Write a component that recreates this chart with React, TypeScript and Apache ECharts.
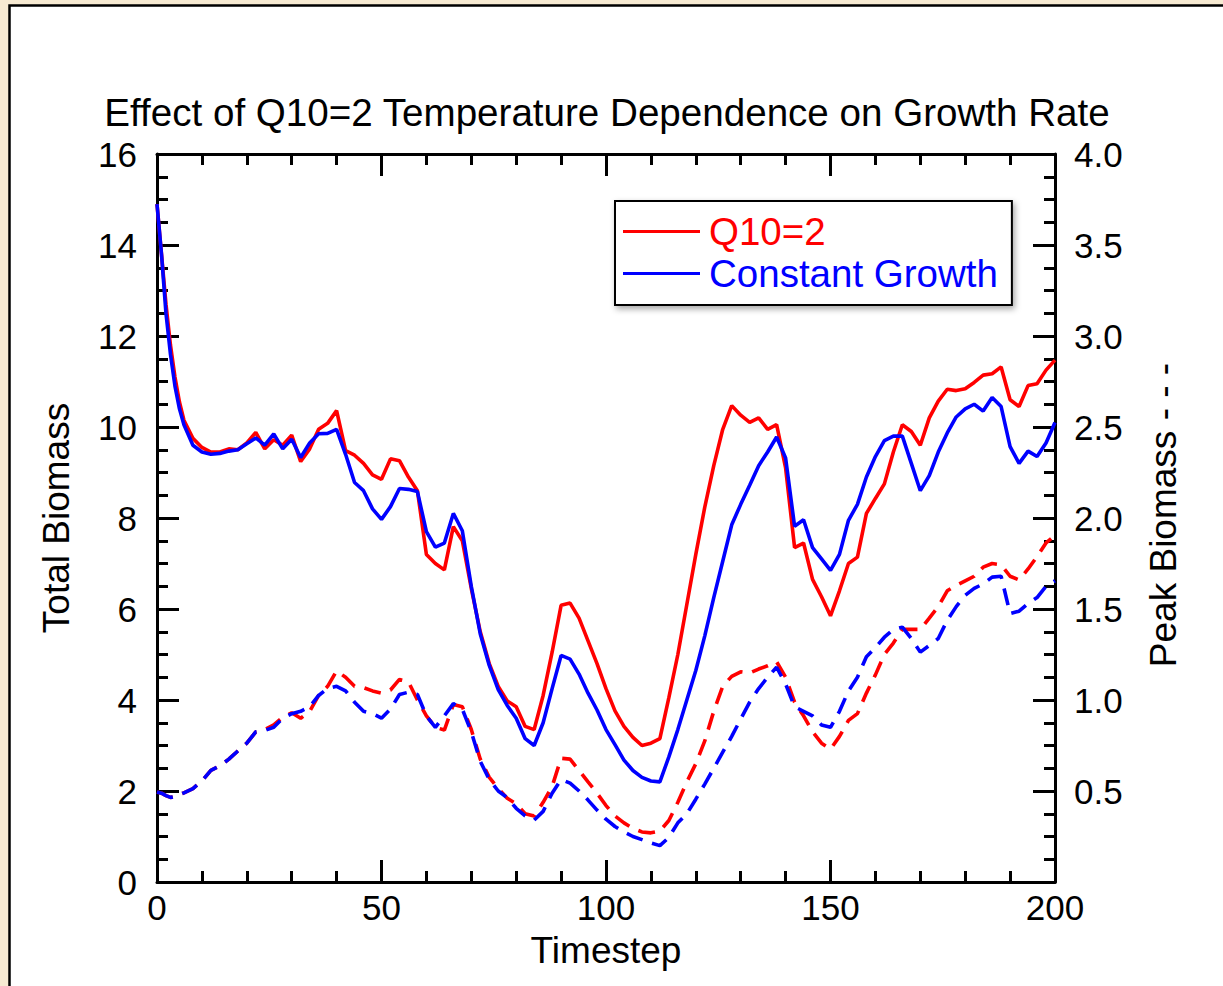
import React, { useEffect, useRef } from "react";
import * as echarts from "echarts";

// Timesteps sampled along the run
const timesteps = [
  0, 1, 2, 3, 4, 5, 6, 8, 10, 12, 14, 16, 18, 20, 22, 24, 26, 28, 30, 32, 34, 36, 38, 40, 42, 44, 46, 48, 50,
  52, 54, 56, 58, 60, 62, 64, 66, 68, 70, 72, 74, 76, 78, 80, 82, 84, 86, 88, 90, 92, 94, 96, 98, 100,
  102, 104, 106, 108, 110, 112, 114, 116, 118, 120, 122, 124, 126, 128, 130, 132, 134, 136, 138, 140, 142, 144, 146, 148, 150,
  152, 154, 156, 158, 160, 162, 164, 166, 168, 170, 172, 174, 176, 178, 180, 182, 184, 186, 188, 190, 192, 194, 196, 198, 200,
];

// Total biomass (left axis)
const q10Total = [
  14.9, 13.8, 12.7, 11.8, 11.1, 10.55, 10.15, 9.75, 9.55, 9.45, 9.45, 9.52, 9.5, 9.65, 9.88, 9.52, 9.72, 9.6, 9.82, 9.24, 9.52, 9.95, 10.08, 10.36, 9.48, 9.38, 9.2, 8.95, 8.85,
  9.3, 9.26, 8.9, 8.6, 7.2, 7.0, 6.86, 7.81, 7.5, 6.45, 5.5, 4.8, 4.3, 3.98, 3.85, 3.42, 3.35, 4.1, 5.05, 6.08, 6.13, 5.8, 5.3, 4.8, 4.25,
  3.76, 3.42, 3.18, 3.0, 3.05, 3.15, 4.05, 5.0, 6.1, 7.2, 8.24, 9.15, 9.95, 10.47, 10.26, 10.1, 10.2, 9.95, 10.05, 9.1, 7.35, 7.45, 6.65, 6.27, 5.85,
  6.4, 7.0, 7.14, 8.1, 8.43, 8.75, 9.45, 10.05, 9.9, 9.6, 10.2, 10.57, 10.83, 10.8, 10.84, 10.98, 11.14, 11.17, 11.32, 10.6, 10.45, 10.91, 10.95, 11.25, 11.47,
];
const constTotal = [
  14.9, 13.8, 12.5, 11.6, 10.9, 10.4, 10.05, 9.6, 9.45, 9.4, 9.42, 9.47, 9.5, 9.63, 9.76, 9.6, 9.85, 9.52, 9.73, 9.33, 9.65, 9.85, 9.86, 9.95, 9.4, 8.78, 8.6, 8.2, 7.97,
  8.25, 8.65, 8.63, 8.58, 7.7, 7.36, 7.45, 8.1, 7.72, 6.5, 5.45, 4.76, 4.23, 3.88, 3.6, 3.15, 3.0, 3.5, 4.25, 4.98, 4.9, 4.57, 4.15, 3.78, 3.35,
  3.02, 2.68, 2.45, 2.3, 2.22, 2.2, 2.75, 3.35, 4.0, 4.65, 5.41, 6.25, 7.05, 7.85, 8.3, 8.72, 9.15, 9.45, 9.78, 9.32, 7.82, 7.96, 7.35, 7.1, 6.85,
  7.2, 7.95, 8.3, 8.9, 9.35, 9.7, 9.8, 9.8, 9.2, 8.6, 8.93, 9.45, 9.87, 10.22, 10.4, 10.5, 10.35, 10.65, 10.45, 9.57, 9.2, 9.47, 9.35, 9.65, 10.1,
];

// Peak biomass (right axis, dashed)
const q10Peak = [
  0.495, 0.488, 0.475, 0.465, 0.47, 0.48, 0.49, 0.513, 0.555, 0.613, 0.638, 0.675, 0.72, 0.763, 0.825, 0.838, 0.863, 0.905, 0.93, 0.9, 0.938, 1.025, 1.075, 1.16, 1.125, 1.075, 1.068, 1.05, 1.038,
  1.055, 1.113, 1.1, 1.0, 0.913, 0.85, 0.835, 0.975, 0.963, 0.838, 0.675, 0.575, 0.513, 0.46, 0.43, 0.375, 0.363, 0.438, 0.525, 0.68, 0.675, 0.613, 0.55, 0.488, 0.42,
  0.363, 0.325, 0.295, 0.275, 0.27, 0.28, 0.338, 0.438, 0.55, 0.65, 0.775, 0.938, 1.075, 1.13, 1.155, 1.148, 1.17, 1.188, 1.21, 1.125, 0.988, 0.913, 0.825, 0.763, 0.73,
  0.8, 0.888, 0.925, 1.038, 1.138, 1.25, 1.313, 1.388, 1.388, 1.388, 1.45, 1.513, 1.6, 1.63, 1.655, 1.68, 1.73, 1.75, 1.743, 1.68, 1.66, 1.72, 1.788, 1.863, 1.905,
];
const constPeak = [
  0.495, 0.488, 0.475, 0.465, 0.47, 0.48, 0.49, 0.513, 0.555, 0.613, 0.638, 0.675, 0.72, 0.763, 0.825, 0.833, 0.85, 0.9, 0.925, 0.938, 0.963, 1.025, 1.063, 1.075, 1.05, 0.988, 0.938, 0.925, 0.9,
  0.95, 1.03, 1.043, 1.03, 0.913, 0.85, 0.913, 0.98, 0.95, 0.825, 0.663, 0.563, 0.5, 0.463, 0.405, 0.363, 0.34, 0.388, 0.488, 0.563, 0.543, 0.5, 0.45, 0.395, 0.345,
  0.305, 0.275, 0.25, 0.233, 0.215, 0.2, 0.245, 0.325, 0.375, 0.455, 0.538, 0.625, 0.713, 0.8, 0.895, 0.988, 1.063, 1.125, 1.18, 1.088, 0.963, 0.938, 0.913, 0.863, 0.85,
  0.938, 1.05, 1.125, 1.238, 1.288, 1.345, 1.388, 1.4, 1.338, 1.263, 1.3, 1.338, 1.438, 1.513, 1.575, 1.613, 1.638, 1.675, 1.68, 1.475, 1.488, 1.53, 1.563, 1.625, 1.655,
];

const FONT = "'Liberation Sans', Arial, Helvetica, sans-serif";
const RED = "#ff0000";
const BLUE = "#0000ff";

const pairs = (vals: number[]) => timesteps.map((t, i) => [t, vals[i]]);

const tickStyle = { color: "#000", width: 3 };

export default function App() {
  const ref = useRef<HTMLDivElement>(null);

  useEffect(() => {
    if (!ref.current) return;
    const chart = echarts.init(ref.current, undefined, { renderer: "svg" });

    const baseX = {
      type: "value",
      min: 0,
      max: 200,
      interval: 50,
      axisLine: { show: true, onZero: false, lineStyle: { color: "#000", width: 3 } },
      axisTick: { show: true, inside: true, length: 22, lineStyle: tickStyle },
      minorTick: { show: true, splitNumber: 5, length: 11, lineStyle: tickStyle },
      splitLine: { show: false },
    };

    const option = {
      animation: false,
      backgroundColor: "#f7ead2",
      textStyle: { fontFamily: FONT },
      graphic: [
        {
          type: "rect",
          z: -100,
          silent: true,
          shape: { x: 9.5, y: 5.5, width: 1240, height: 1000 },
          style: { fill: "#ffffff", stroke: "#000", lineWidth: 2.5 },
        },
        {
          type: "text",
          silent: true,
          x: 607,
          y: 112,
          style: {
            text: "Effect of Q10=2 Temperature Dependence on Growth Rate",
            font: `38.6px ${FONT}`,
            fill: "#000",
            align: "center",
            verticalAlign: "middle",
          },
        },
        {
          type: "text",
          silent: true,
          x: 56,
          y: 518,
          rotation: Math.PI / 2,
          style: {
            text: "Total Biomass",
            font: `37px ${FONT}`,
            fill: "#000",
            align: "center",
            verticalAlign: "middle",
          },
        },
        {
          type: "text",
          silent: true,
          x: 1163,
          y: 515,
          rotation: Math.PI / 2,
          style: {
            text: "Peak Biomass - - -",
            font: `37px ${FONT}`,
            fill: "#000",
            align: "center",
            verticalAlign: "middle",
          },
        },
        {
          type: "text",
          silent: true,
          x: 606,
          y: 950,
          style: {
            text: "Timestep",
            font: `37px ${FONT}`,
            fill: "#000",
            align: "center",
            verticalAlign: "middle",
          },
        },
      ],
      legend: {
        data: [
          { name: "Q10=2", textStyle: { color: RED } },
          { name: "Constant Growth", textStyle: { color: BLUE } },
        ],
        selectedMode: false,
        orient: "vertical",
        left: 615,
        top: 201,
        padding: [11, 14, 12, 8],
        itemGap: 3,
        itemWidth: 77,
        itemHeight: 3,
        icon: "rect",
        borderColor: "#000",
        borderWidth: 2,
        borderRadius: 0,
        backgroundColor: "#fff",
        shadowBlur: 6,
        shadowColor: "rgba(0,0,0,0.35)",
        shadowOffsetX: 2,
        shadowOffsetY: 3,
        textStyle: { fontSize: 38.5, fontFamily: FONT, padding: [0, 0, 0, 4] },
      },
      grid: { left: 157, top: 154, right: 168, bottom: 104, containLabel: false },
      xAxis: [
        {
          ...baseX,
          position: "bottom",
          axisLabel: { show: true, color: "#000", fontSize: 35, fontFamily: FONT, margin: 8 },
        },
        {
          ...baseX,
          position: "top",
          axisLabel: { show: false },
        },
      ],
      yAxis: [
        {
          type: "value",
          position: "left",
          min: 0,
          max: 16,
          interval: 2,
          axisLine: { show: true, onZero: false, lineStyle: { color: "#000", width: 3 } },
          axisTick: { show: true, inside: true, length: 22, lineStyle: tickStyle },
          minorTick: { show: true, splitNumber: 4, length: 11, lineStyle: tickStyle },
          splitLine: { show: false },
          axisLabel: { color: "#000", fontSize: 35, fontFamily: FONT, margin: 20 },
        },
        {
          type: "value",
          position: "right",
          min: 0,
          max: 4,
          interval: 0.5,
          axisLine: { show: true, onZero: false, lineStyle: { color: "#000", width: 3 } },
          axisTick: { show: true, inside: true, length: 22, lineStyle: tickStyle },
          minorTick: { show: true, splitNumber: 4, length: 11, lineStyle: tickStyle },
          splitLine: { show: false },
          axisLabel: {
            color: "#000",
            fontSize: 35,
            fontFamily: FONT,
            margin: 19,
            formatter: (v: number) => (v === 0 ? "" : v.toFixed(1)),
          },
        },
      ],
      series: [
        {
          name: "Q10=2 peak",
          type: "line",
          xAxisIndex: 0,
          yAxisIndex: 1,
          data: pairs(q10Peak),
          symbol: "none",
          silent: true,
          lineStyle: { color: RED, width: 3.6, type: [17, 10] },
          itemStyle: { color: RED },
        },
        {
          name: "Constant Growth peak",
          type: "line",
          xAxisIndex: 0,
          yAxisIndex: 1,
          data: pairs(constPeak),
          symbol: "none",
          silent: true,
          lineStyle: { color: BLUE, width: 3.6, type: [17, 10] },
          itemStyle: { color: BLUE },
        },
        {
          name: "Q10=2",
          type: "line",
          xAxisIndex: 0,
          yAxisIndex: 0,
          data: pairs(q10Total),
          symbol: "none",
          silent: true,
          lineStyle: { color: RED, width: 3.6 },
          itemStyle: { color: RED },
        },
        {
          name: "Constant Growth",
          type: "line",
          xAxisIndex: 0,
          yAxisIndex: 0,
          data: pairs(constTotal),
          symbol: "none",
          silent: true,
          lineStyle: { color: BLUE, width: 3.6 },
          itemStyle: { color: BLUE },
        },
      ],
    };

    chart.setOption(option as any);
    return () => chart.dispose();
  }, []);

  return (
    <div
      ref={ref}
      style={{ position: "absolute", left: 0, top: 0, width: 1223, height: 986 }}
    />
  );
}
